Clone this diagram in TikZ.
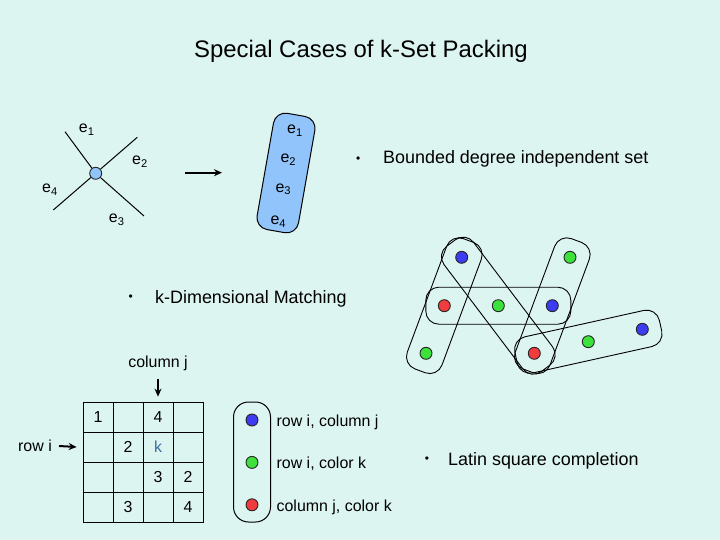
\documentclass[tikz,border=0pt]{standalone}
\usepackage{fontspec}
\setmainfont{Liberation Sans}
\usepackage{xcolor}
\usepackage{tikz}
\usetikzlibrary{positioning,arrows.meta}

\definecolor{bgcyan}{RGB}{221,245,241}
\definecolor{setblue}{RGB}{145,196,250}
\definecolor{dotblue}{RGB}{60,60,240}
\definecolor{dotgreen}{RGB}{60,225,60}
\definecolor{dotred}{RGB}{240,60,60}
\definecolor{kblue}{RGB}{60,110,160}

\begin{document}
\begin{tikzpicture}[x=1bp, y=-1bp,
    txt/.style={inner sep=0pt, font=\fontsize{16}{19}\selectfont},
    bigtxt/.style={inner sep=0pt, anchor=base west, font=\fontsize{18}{22}\selectfont},
    bulletmark/.style={inner sep=0pt, font=\fontsize{12}{14}\selectfont},
    dot/.style={circle, draw=black!85, line width=0.9bp, fill=#1, minimum size=12bp, inner sep=0pt},
    hedge/.style={rectangle, rounded corners=13bp, draw=black, line width=0.9bp, minimum height=37bp},
    cell/.style={rectangle, draw=black, line width=0.7bp, minimum size=30bp, inner sep=0pt},
    arrow/.style={-{Stealth[length=8bp, width=7bp]}, line width=2bp, draw=black}
]
    % Background
    \fill[bgcyan] (0,0) rectangle (720,540);

    % Title
    \node[inner sep=0pt, anchor=base, font=\fontsize{24}{29}\selectfont] (title) at (361,58) {Special Cases of k-Set Packing};

    % Star with four edges
    \node[dot=setblue] (hub) at (95.7,173.3) {};
    \coordinate (end1) at (65,131.7);
    \coordinate (end2) at (137.3,137.3);
    \coordinate (end3) at (144,216);
    \coordinate (end4) at (53.3,210);
    \draw[line width=1bp] (hub) -- (end1);
    \draw[line width=1bp] (hub) -- (end2);
    \draw[line width=1bp] (hub) -- (end3);
    \draw[line width=1bp] (hub) -- (end4);
    \node[txt] (e1) at (86.7,130) {e\textsubscript{1}};
    \node[txt] (e2) at (140,161.7) {e\textsubscript{2}};
    \node[txt] (e3) at (116.7,220) {e\textsubscript{3}};
    \node[txt] (e4) at (50,190) {e\textsubscript{4}};

    % Arrow to the set
    \coordinate (arrowstart) at (185,172.7);
    \coordinate (arrowend) at (222,172.7);
    \draw[arrow] (arrowstart) -- (arrowend);

    % The set as one box
    \node[rectangle, rounded corners=12bp, draw=black, line width=1bp, fill=setblue, minimum width=42bp, minimum height=118bp, rotate=-10] (edgeset) at (286,173) {};
    \node[txt] (s1) at (295,130.7) {e\textsubscript{1}};
    \node[txt] (s2) at (288.3,160) {e\textsubscript{2}};
    \node[txt] (s3) at (283.3,189.3) {e\textsubscript{3}};
    \node[txt] (s4) at (278.3,221.7) {e\textsubscript{4}};

    % Bullets
    \node[bulletmark] (bul1) at (358.3,159.3) {\textbullet};
    \node[bigtxt] (indset) at (383,164) {Bounded degree independent set};
    \node[bulletmark] (bul2) at (130.7,298) {\textbullet};
    \node[bigtxt] (matching) at (155,303.5) {k-Dimensional Matching};
    \node[bulletmark] (bul3) at (427,460) {\textbullet};
    \node[bigtxt] (latin) at (448,465.5) {Latin square completion};

    % Hypergraph
    \node[dot=dotblue] (b1) at (461.7,257.3) {};
    \node[dot=dotgreen] (g1) at (570,257.3) {};
    \node[dot=dotred] (r1) at (444.3,305.7) {};
    \node[dot=dotgreen] (g2) at (498.3,305.7) {};
    \node[dot=dotblue] (b2) at (552.3,305.7) {};
    \node[dot=dotblue] (b3) at (642.3,329.3) {};
    \node[dot=dotgreen] (g3) at (588.3,341.7) {};
    \node[dot=dotred] (r2) at (534.3,353.3) {};
    \node[dot=dotgreen] (g4) at (426,353.3) {};
    \node[hedge, minimum width=145bp] (edgeA) at (g2) {};
    \node[hedge, minimum width=139bp, rotate=69.6] (edgeB) at (r1) {};
    \node[hedge, minimum width=157bp, rotate=-52.9] (edgeC) at (g2) {};
    \node[hedge, minimum width=139bp, rotate=69.6] (edgeD) at (b2) {};
    \node[hedge, minimum width=148bp, rotate=12.5] (edgeE) at (g3) {};

    % Latin square
    \foreach \r in {0,...,3}
        \foreach \c in {0,...,3}
            \node[cell] (c\r\c) at (98+30*\c, 417+30*\r) {};
    \node[txt] (n00) at (c00) {1};
    \node[txt] (n02) at (c02) {4};
    \node[txt] (n11) at (c11) {2};
    \node[txt, text=kblue] (n12) at (c12) {k};
    \node[txt] (n22) at (c22) {3};
    \node[txt] (n23) at (c23) {2};
    \node[txt] (n31) at (c31) {3};
    \node[txt] (n33) at (c33) {4};
    \node[txt] (colj) at (158,363) {column j};
    \draw[arrow] ([yshift=-8bp]colj.south) -- ([yshift=5bp]c02.north);
    \node[txt] (rowi) at (35,446) {row i};
    \draw[arrow] ([xshift=7bp]rowi.east) -- ([xshift=-6bp]c10.west);

    % Legend
    \node[rectangle, rounded corners=15bp, draw=black, line width=1bp, minimum width=37bp, minimum height=120bp] (legend) at (252,462) {};
    \node[dot=dotblue] (lblue) at (252,420) {};
    \node[dot=dotgreen, below=29.5bp of lblue] (lgreen) {};
    \node[dot=dotred, below=29.5bp of lgreen] (lred) {};
    \node[txt, right=18bp of lblue, yshift=-2.5bp] (rowcol) {row i, column j};
    \node[txt, right=18bp of lgreen, yshift=-1.5bp] (rowcolor) {row i, color k};
    \node[txt, right=18bp of lred, yshift=-3bp] (colcolor) {column j, color k};
\end{tikzpicture}
\end{document}
